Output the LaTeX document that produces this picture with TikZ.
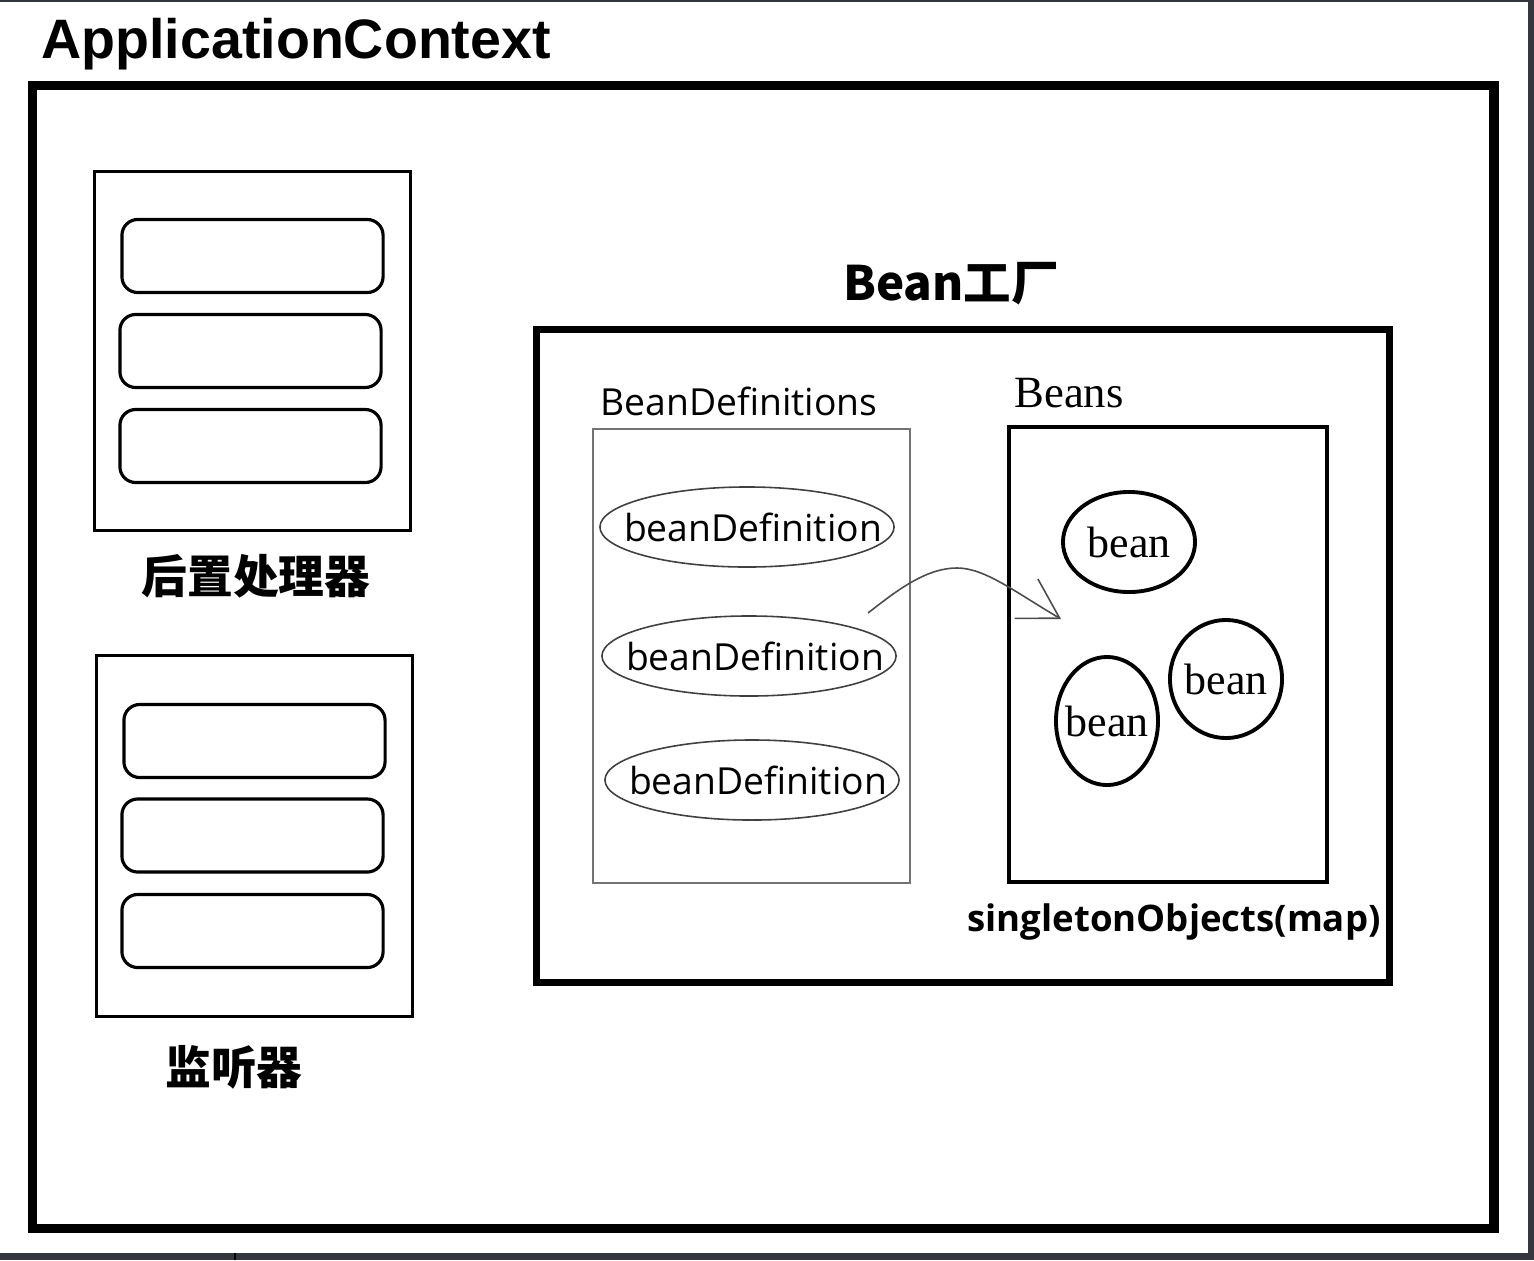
\documentclass[tikz,border=0pt]{standalone}
\usepackage{fontspec}
\setmainfont{Open Sans}
\newfontfamily\titlefont{Liberation Sans}
\newfontfamily\beanfont{Liberation Serif}
\newfontfamily\cjk{Noto Sans CJK SC}
\usetikzlibrary{arrows.meta,shapes.geometric}
\definecolor{stripc}{RGB}{52,56,62}

\begin{document}
\begin{tikzpicture}[x=0.01cm, y=-0.01cm, thick,
    frame/.style={draw, line width=0.9pt, inner sep=0pt, minimum width=3.15cm, minimum height=3.59cm},
    slot/.style={draw, line width=0.9pt, rounded corners=4.5pt, inner sep=0pt, minimum width=2.61cm, minimum height=0.73cm},
    defn/.style={draw=black!75, ellipse, line width=0.45pt, inner sep=0pt, minimum width=2.94cm, minimum height=0.8cm,
      label={[font=\fontsize{10.6}{13}\selectfont, xshift=1.7pt]center:beanDefinition}},
    bean/.style={draw, ellipse, line width=1.1pt, inner sep=0pt,
      label={[font=\beanfont\fontsize{12.5}{14}\selectfont]center:bean}},
    cn/.style={font=\cjk\bfseries\fontsize{13}{15}\selectfont}]
    \useasboundingbox (0,0) rectangle (1534,1260);
    \fill[white] (0,0) rectangle (1534,1260);
    \fill[stripc] (0,0) rectangle (1534,2);
    \fill[stripc] (1528,0) rectangle (1534,1260);
    \fill[stripc] (0,1253) rectangle (1534,1260);
    \draw[black, line width=0.5pt] (235,1253) -- (235,1260);

    \node[anchor=base west, inner sep=0pt, font=\titlefont\bfseries\fontsize{15.8}{18}\selectfont] (title) at (40,58) {ApplicationContext};
    \node[draw, line width=2.6pt, inner sep=0pt, minimum width=14.61cm, minimum height=11.42cm] (ctx) at (763,657) {};

    \node[frame] (post) at (252.5,351) {};
    \node[slot] (post1) at (252.5,256) {};
    \node[slot] (post2) at (250.5,351) {};
    \node[slot] (post3) at (250.5,446) {};
    \node[cn] (postlbl) at (256,576) {后置处理器};

    \node[frame, minimum height=3.6cm] (listen) at (254.5,836) {};
    \node[slot] (listen1) at (254.5,741) {};
    \node[slot] (listen2) at (252.5,835.5) {};
    \node[slot] (listen3) at (252.5,931) {};
    \node[cn] (listenlbl) at (234,1067) {监听器};

    \node[cn, font=\cjk\bfseries\fontsize{13.5}{16}\selectfont] (factlbl) at (951,284) {Bean工厂};
    \node[draw, line width=2pt, inner sep=0pt, minimum width=8.52cm, minimum height=6.52cm] (factory) at (963,656) {};

    \node[anchor=base west, inner sep=0pt, font=\fontsize{10.6}{13}\selectfont] (defslbl) at (599,415) {BeanDefinitions};
    \node[draw=black!55, line width=0.45pt, inner sep=0pt, minimum width=3.17cm, minimum height=4.54cm] (defs) at (751.5,656) {};
    \node[defn] (def1) at (747,527) {};
    \node[defn] (def2) at (749,656) {};
    \node[defn] (def3) at (752,780) {};

    \node[anchor=base west, inner sep=0pt, font=\beanfont\fontsize{12.7}{15}\selectfont] (beanslbl) at (1013,407) {Beans};
    \node[draw, line width=1.1pt, inner sep=0pt, minimum width=3.18cm, minimum height=4.55cm] (beans) at (1168,654.5) {};
    \node[bean, minimum width=1.32cm, minimum height=1.0cm] (bean1) at (1129,542) {};
    \node[bean, minimum width=1.12cm, minimum height=1.18cm] (bean2) at (1226,679) {};
    \node[bean, minimum width=1.02cm, minimum height=1.28cm] (bean3) at (1107,721) {};
    \node[font=\bfseries\fontsize{10.4}{13}\selectfont] (singlbl) at (1174,922) {singletonObjects(map)};

    \coordinate (from) at (868,613);
    \coordinate (peak) at (957,568);
    \coordinate (to) at (1061,619);
    \draw[black!70, line width=0.45pt, -{Straight Barb[length=11pt,width=13pt]}]
      (from) .. controls (895,592) and (925,568) .. (peak) .. controls (985,568) and (1015,592) .. (to);
\end{tikzpicture}
\end{document}
